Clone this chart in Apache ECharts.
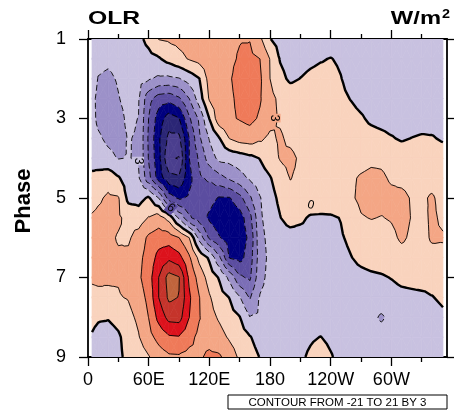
<!DOCTYPE html>
<html>
<head>
<meta charset="utf-8">
<title>OLR composite by MJO phase</title>
<script src="https://cdn.jsdelivr.net/npm/echarts@6/dist/echarts.min.js"></script>
<style>
html,body{margin:0;padding:0;background:#fff;}
#chart{width:454px;height:412px;}
</style>
</head>
<body>
<div id="chart"></div>
<script>
// Grid columns (degrees east) and phase rows of the OLR composite
const longitudes = [4,10,20,30,40,50,60,70,80,90,100,110,120,130,140,150,160,170,180,190,200,210,220,230,240,250,260,270,280,290,300,310,320,330,340,351];
const phases = [1,1.5,2,2.5,3,3.5,4,4.5,5,5.5,6,6.5,7,7.5,8,8.5,9];

// OLR anomaly (W/m^2), one row per phase value
const olrP1_0 = [-1.5,-1.6,-1.7,-1.6,-1.3,-0.7,0.8,3.1,3.4,3.8,4.2,4.6,5.0,5.3,5.6,5.9,5.9,3.6,0.1,-1.2,-1.4,-1.5,-1.5,-1.5,-1.5,-1.5,-1.5,-1.5,-1.5,-1.5,-1.5,-1.5,-1.5,-1.5,-1.5,-1.5];
const olrP1_5 = [-1.8,-2.4,-2.6,-2.3,-1.9,-1.4,-0.9,-0.3,1.0,2.2,3.2,4.0,4.6,5.1,5.6,6.2,6.6,6.0,2.9,-0.2,-1.2,-1.0,-0.6,-0.2,0.1,-0.4,-1.3,-1.5,-1.6,-1.6,-1.6,-1.6,-1.5,-1.5,-1.5,-1.4];
const olrP2_0 = [-1.7,-3.1,-3.4,-2.8,-2.2,-2.0,-2.7,-3.5,-3.6,-3.2,-1.7,-0.1,4.1,5.0,5.8,6.8,7.3,6.5,3.0,0.8,-0.5,0.05,0.6,0.9,0.8,0.1,-1.0,-1.4,-1.5,-1.5,-1.5,-1.5,-1.5,-1.5,-1.5,-1.5];
const olrP2_5 = [-2.3,-3.6,-3.9,-3.1,-2.4,-2.8,-8.0,-10.5,-11.0,-9.5,-6.05,-1.5,3.3,4.6,5.6,6.5,7.5,6.3,3.8,2.4,1.8,1.6,1.5,1.3,1.1,0.6,-0.1,-0.8,-1.2,-1.4,-1.4,-1.4,-1.4,-1.4,-1.4,-1.4];
const olrP3_0 = [-2.4,-3.4,-3.9,-3.6,-2.6,-3.05,-9.05,-13.5,-16.5,-15.2,-9.5,-5.5,0.05,5.0,5.6,6.2,6.8,5.6,4.0,2.6,1.8,1.7,1.6,1.5,1.4,1.2,0.8,0.3,-0.5,-0.9,-1.1,-1.2,-1.2,-1.1,-1.0,-1.0];
const olrP3_5 = [-2.2,-2.7,-3.4,-3.6,-2.9,-3.2,-9.5,-14.5,-18.8,-18.8,-12.05,-6.5,-2.8,-0.1,3.1,4.2,4.5,3.5,2.4,3.4,2.3,1.6,1.5,1.4,1.4,1.5,1.4,1.2,1.0,0.7,0.2,-0.3,0.05,0.3,0.2,-0.3];
const olrP4_0 = [-1.8,-2.0,-2.5,-3.1,-2.9,-3.3,-9.2,-14.2,-20.6,-21.2,-12.05,-8.5,-4.5,-2.2,-2.0,-1.5,-0.8,0.1,1.6,3.2,3.8,2.5,1.8,1.6,1.5,1.6,1.8,2.0,2.4,2.5,2.1,1.7,1.6,1.5,1.4,1.3];
const olrP4_5 = [1.0,1.4,2.0,0.3,-1.5,-2.6,-8.0,-13.5,-17.0,-17.5,-13.0,-9.5,-8.5,-7.0,-5.5,-4.0,-2.6,-1.3,-0.2,1.5,3.1,2.4,2.0,1.9,1.9,2.1,2.6,3.3,3.7,3.4,2.7,2.3,2.1,2.1,2.0,1.8];
const olrP5_0 = [2.0,2.6,3.4,3.2,-0.8,-1.0,0.4,-3.05,-10.5,-12.5,-11.5,-10.5,-11.0,-12.3,-12.2,-10.0,-6.5,-3.2,-1.0,0.6,2.0,2.3,2.2,2.0,2.0,2.2,2.6,3.6,4.0,3.8,3.6,3.7,2.8,2.6,3.3,2.2];
const olrP5_5 = [3.3,3.6,3.8,3.4,2.2,1.5,3.2,4.3,2.0,-3.5,-8.5,-10.5,-12.5,-14.0,-14.5,-13.5,-10.0,-3.5,-1.5,-0.1,1.2,0.6,-0.4,-0.5,-0.4,0.1,1.4,2.8,3.1,2.9,3.2,3.8,2.9,2.3,3.4,2.6];
const olrP6_0 = [3.5,3.7,3.5,2.8,2.6,4.2,6.6,7.6,7.5,6.05,3.05,-4.0,-9.5,-11.8,-13.5,-13.5,-11.4,-4.0,-2.0,-1.5,-1.3,-1.2,-1.1,-1.0,-0.8,-0.3,0.6,1.5,1.8,2.0,2.4,3.4,2.6,2.2,3.3,3.2];
const olrP6_5 = [3.6,3.8,3.6,3.3,3.6,5.2,7.2,10.0,11.3,10.0,6.5,2.2,-0.5,-5.5,-12.2,-13.0,-10.5,-4.5,-2.2,-1.6,-1.5,-1.4,-1.3,-1.2,-1.1,-0.9,-0.1,0.7,1.1,1.3,1.6,2.0,2.1,2.0,2.2,2.4];
const olrP7_0 = [3.3,3.4,3.2,3.2,4.0,5.5,7.6,12.05,16.2,15.2,8.5,4.8,1.8,-0.3,-3.8,-8.5,-9.5,-4.0,-2.0,-1.6,-1.5,-1.5,-1.5,-1.5,-1.4,-1.3,-1.1,-0.8,-0.5,-0.3,0.1,0.6,0.8,1.0,0.9,1.0];
const olrP7_5 = [2.4,2.5,2.7,2.8,3.2,4.6,6.8,12.05,15.6,14.9,9.5,6.1,3.3,1.2,-0.1,-2.8,-6.3,-2.8,-1.8,-1.5,-1.5,-1.5,-1.5,-1.5,-1.5,-1.5,-1.5,-1.4,-1.3,-1.2,-1.0,-0.7,-0.6,-0.5,-0.1,0.4];
const olrP8_0 = [0.6,0.3,0.2,0.9,2.2,3.6,6.05,10.0,13.0,13.2,9.05,6.2,4.0,2.6,1.2,0.1,-2.9,-2.5,-1.8,-1.6,-1.5,-1.4,-1.3,-1.3,-1.5,-1.6,-1.7,-1.8,-2.2,-3.4,-2.2,-1.7,-1.5,-1.3,-0.9,-0.4];
const olrP8_5 = [-0.2,-0.8,-1.2,-0.4,1.2,2.8,5.0,7.0,8.6,8.8,7.0,5.2,5.0,4.0,2.6,1.5,0.2,-1.2,-1.5,-1.5,-1.3,-0.8,-0.3,0.05,-0.5,-1.0,-1.3,-1.5,-1.6,-1.7,-1.6,-1.5,-1.5,-1.4,-1.2,-1.0];
const olrP9_0 = [-1.5,-1.6,-1.4,-0.6,0.8,1.5,2.8,4.5,5.5,5.6,5.05,5.6,6.6,6.4,4.5,2.5,1.2,-0.1,-1.0,-1.3,-1.1,-0.4,0.4,1.0,0.2,-0.7,-1.2,-1.4,-1.5,-1.6,-1.6,-1.5,-1.4,-1.3,-1.0,-1.2];

const olrRows = [olrP1_0,olrP1_5,olrP2_0,olrP2_5,olrP3_0,olrP3_5,olrP4_0,olrP4_5,olrP5_0,
                 olrP5_5,olrP6_0,olrP6_5,olrP7_0,olrP7_5,olrP8_0,olrP8_5,olrP9_0];

// Contour levels: from -21 to 21 by 3
const contourLevels = [-21,-18,-15,-12,-9,-6,-3,0,3,6,9,12,15,18,21];
// Fill colour of each interval between levels (below -21 ... above 21)
const bandColors = ['#4a3d8c','#4a3e8e','#2b2676','#00007e','#5b4da0','#7b6eb6','#9c91c9','#c8c1e0',
                    '#f9d3bd','#f4a685','#ef7a59','#dc121c','#c5342b','#c0643c','#b85a35','#b85a35'];

// Axis ticks and labels
const lonTickValues = [0,60,120,180,240,300];
const lonTickLabels = ['0','60E','120E','180','120W','60W'];
const lonMinorValues = [30,90,150,210,270,330];
const phaseTickValues = [1,3,5,7,9];

// Contour line labels (text and anchor on the line)
const contourLabelText = ['3','6','3','0'];
const contourLabelLon = [49.5,82,184.5,220.2];
const contourLabelPhase = [4.07,5.25,2.99,5.18];

// ---------- contouring on a triangulated grid ----------
const NX = longitudes.length, NY = phases.length;
const cells = [];
const triangles = [];
for (let j = 0; j < NY - 1; j++) {
  for (let i = 0; i < NX - 1; i++) {
    const vtx = (ii, jj) => ({ id: jj * NX + ii, x: longitudes[ii], y: phases[jj], v: olrRows[jj][ii] });
    const A = vtx(i, j), B = vtx(i + 1, j), C = vtx(i + 1, j + 1), D = vtx(i, j + 1);
    const M = { id: NX * NY + j * (NX - 1) + i, x: (A.x + B.x) / 2, y: (A.y + D.y) / 2, v: (A.v + B.v + C.v + D.v) / 4 };
    const cell = { lon: M.x, phase: M.y, polys: [] };
    cells.push(cell);
    [[A, B, M], [B, C, M], [C, D, M], [D, A, M]].forEach(t => triangles.push({ cell, p: t }));
  }
}

function clipPoly(poly, level, keepAbove) {
  const out = [];
  for (let k = 0; k < poly.length; k++) {
    const P = poly[k], Q = poly[(k + 1) % poly.length];
    const pin = keepAbove ? P.v >= level : P.v <= level;
    const qin = keepAbove ? Q.v >= level : Q.v <= level;
    if (pin) out.push(P);
    if (pin !== qin) {
      const t = (level - P.v) / (Q.v - P.v);
      out.push({ x: P.x + t * (Q.x - P.x), y: P.y + t * (Q.y - P.y), v: level });
    }
  }
  return out;
}

const edges = [-Infinity].concat(contourLevels, [Infinity]);
const segments = contourLevels.map(() => []);
triangles.forEach(tri => {
  const vs = tri.p.map(p => p.v);
  const vmin = Math.min(...vs), vmax = Math.max(...vs);
  for (let k = 0; k < edges.length - 1; k++) {
    const lo = edges[k], hi = edges[k + 1];
    if (hi <= vmin || lo > vmax) continue;
    let poly = tri.p;
    if (isFinite(lo)) poly = clipPoly(poly, lo, true);
    if (poly.length >= 3 && isFinite(hi)) poly = clipPoly(poly, hi, false);
    if (poly.length >= 3) tri.cell.polys.push({ k, pts: poly });
  }
  contourLevels.forEach((L, li) => {
    const cross = [];
    for (let e = 0; e < 3; e++) {
      const P = tri.p[e], Q = tri.p[(e + 1) % 3];
      if ((P.v >= L) !== (Q.v >= L)) {
        const t = (L - P.v) / (Q.v - P.v);
        const key = P.id < Q.id ? P.id + '-' + Q.id : Q.id + '-' + P.id;
        cross.push({ key, x: P.x + t * (Q.x - P.x), y: P.y + t * (Q.y - P.y) });
      }
    }
    if (cross.length === 2) segments[li].push(cross);
  });
});

function chainSegments(list) {
  const byKey = new Map();
  list.forEach((s, idx) => s.forEach(e => {
    if (!byKey.has(e.key)) byKey.set(e.key, []);
    byKey.get(e.key).push(idx);
  }));
  const used = new Array(list.length).fill(false);
  const out = [];
  const grow = (arr, atEnd) => {
    for (;;) {
      const endPt = atEnd ? arr[arr.length - 1] : arr[0];
      const next = (byKey.get(endPt.key) || []).find(c => !used[c]);
      if (next === undefined) break;
      used[next] = true;
      const seg = list[next];
      const other = seg[0].key === endPt.key ? seg[1] : seg[0];
      if (atEnd) arr.push(other); else arr.unshift(other);
    }
  };
  for (let s = 0; s < list.length; s++) {
    if (used[s]) continue;
    used[s] = true;
    const pts = [list[s][0], list[s][1]];
    grow(pts, true);
    grow(pts, false);
    out.push(pts);
  }
  return out;
}

const contourLines = [];
contourLevels.forEach((L, li) => {
  chainSegments(segments[li]).forEach(pts => contourLines.push({ level: L, pts }));
});

// fill colour under a contour label, used as the label's backdrop so the line is broken there
function bandColorAt(lon, phase) {
  let i = 0, j = 0;
  while (i < NX - 2 && longitudes[i + 1] < lon) i++;
  while (j < NY - 2 && phases[j + 1] < phase) j++;
  const v = olrRows[j][i];
  let k = 0;
  while (k < contourLevels.length && v >= contourLevels[k]) k++;
  return bandColors[k];
}
const labelRotation = [-Math.PI / 2, -0.7, -Math.PI / 2, -0.25];

// ---------- chart ----------
const FONT = 'Liberation Sans, Arial, Helvetica, sans-serif';
const chart = echarts.init(document.getElementById('chart'), null, { renderer: 'canvas' });

const baseAxis = {
  type: 'value', splitLine: { show: false },
  axisLine: { show: true, onZero: false, lineStyle: { color: '#000', width: 1.8 } }
};
const lonAxis = (position, labelled, minor) => Object.assign({}, baseAxis, {
  position, min: 0, max: 355,
  axisLine: minor ? { show: false } : baseAxis.axisLine,
  axisTick: { show: true, length: minor ? 5 : 9, lineStyle: { color: '#000', width: 1.3 },
              customValues: minor ? lonMinorValues : lonTickValues },
  axisLabel: labelled ? {
    show: true, customValues: lonTickValues, margin: 14, color: '#000', fontSize: 18, fontFamily: FONT,
    formatter: v => lonTickLabels[lonTickValues.indexOf(v)] || ''
  } : { show: false }
});
const phaseAxis = (position, labelled) => Object.assign({}, baseAxis, {
  position, min: 1, max: 9, inverse: true,
  axisTick: { show: true, length: 9, lineStyle: { color: '#000', width: 1.3 }, customValues: phaseTickValues },
  axisLabel: labelled ? {
    show: true, customValues: phaseTickValues, margin: 22, color: '#000', fontSize: 18, fontFamily: FONT
  } : { show: false }
});

const option = {
  animation: false,
  backgroundColor: '#fff',
  grid: { left: 88, right: 7, top: 39, bottom: 55, containLabel: false },
  xAxis: [lonAxis('bottom', true, false), lonAxis('bottom', false, true),
          lonAxis('top', false, false), lonAxis('top', false, true)],
  yAxis: [phaseAxis('left', true), phaseAxis('right', false)],
  series: [
    {
      type: 'custom', name: 'olr fill', coordinateSystem: 'cartesian2d', clip: true, silent: true,
      xAxisIndex: 0, yAxisIndex: 0, z: 1,
      data: cells.map((c, idx) => [c.lon, c.phase, idx]),
      renderItem: (params, api) => {
        const cell = cells[params.dataIndex];
        return {
          type: 'group',
          children: cell.polys.map(pg => ({
            type: 'polygon',
            shape: { points: pg.pts.map(p => api.coord([p.x, p.y])) },
            style: { fill: bandColors[pg.k], stroke: bandColors[pg.k], lineWidth: 0.7 }
          }))
        };
      }
    },
    {
      type: 'custom', name: 'olr contours', coordinateSystem: 'cartesian2d', clip: true, silent: true,
      xAxisIndex: 0, yAxisIndex: 0, z: 2,
      data: contourLines.map((ln, idx) => [ln.pts[0].x, ln.pts[0].y, idx]),
      renderItem: (params, api) => {
        const ln = contourLines[params.dataIndex];
        const zero = ln.level === 0, neg = ln.level < 0;
        return {
          type: 'polyline',
          shape: { points: ln.pts.map(p => api.coord([p.x, p.y])) },
          style: { fill: null, stroke: '#000', lineWidth: zero ? 2.4 : 0.9, lineDash: neg ? [6, 3] : null,
                   lineJoin: 'round' }
        };
      }
    },
    {
      type: 'custom', name: 'contour labels', coordinateSystem: 'cartesian2d', silent: true,
      xAxisIndex: 0, yAxisIndex: 0, z: 3,
      data: contourLabelText.map((t, i) => [contourLabelLon[i], contourLabelPhase[i], i]),
      renderItem: (params, api) => {
        const i = params.dataIndex;
        const pt = api.coord([contourLabelLon[i], contourLabelPhase[i]]);
        return {
          type: 'text', x: pt[0], y: pt[1], rotation: labelRotation[i],
          style: {
            text: contourLabelText[i], fill: '#000', fontSize: 12, fontFamily: FONT,
            textAlign: 'center', textVerticalAlign: 'middle',
            backgroundColor: bandColorAt(contourLabelLon[i], contourLabelPhase[i]), padding: [0, 1]
          }
        };
      }
    }
  ],
  graphic: [
    { type: 'text', x: 88, y: 28, scaleX: 1.3,
      style: { text: 'OLR', fill: '#000', fontSize: 19, fontWeight: 'bold', fontFamily: FONT,
               textAlign: 'left', textVerticalAlign: 'bottom' } },
    { type: 'text', x: 441, y: 28, scaleX: 1.25,
      style: { text: 'W/m', fill: '#000', fontSize: 19, fontWeight: 'bold', fontFamily: FONT,
               textAlign: 'right', textVerticalAlign: 'bottom' } },
    { type: 'text', x: 442, y: 21, scaleX: 1.2,
      style: { text: '2', fill: '#000', fontSize: 12, fontWeight: 'bold', fontFamily: FONT,
               textAlign: 'left', textVerticalAlign: 'bottom' } },
    { type: 'text', x: 24, y: 201, rotation: Math.PI / 2,
      style: { text: 'Phase', fill: '#000', fontSize: 22, fontWeight: 'bold', fontFamily: FONT,
               textAlign: 'center', textVerticalAlign: 'middle' } },
    { type: 'rect', shape: { x: 228, y: 395, width: 219, height: 14 },
      style: { fill: '#fff', stroke: '#000', lineWidth: 1 } },
    { type: 'text', x: 337.5, y: 402.5,
      style: { text: 'CONTOUR FROM -21 TO 21 BY 3', fill: '#000', fontSize: 11.5, fontFamily: FONT,
               textAlign: 'center', textVerticalAlign: 'middle' } }
  ]
};
chart.setOption(option);
</script>
</body>
</html>
